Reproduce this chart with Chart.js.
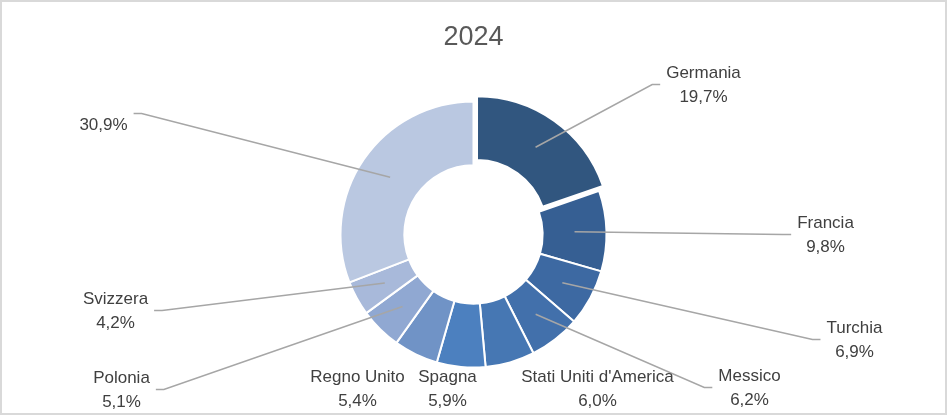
<!DOCTYPE html>
<html lang="it">
<head>
<meta charset="UTF-8">
<title>2024</title>
<script src="https://cdn.jsdelivr.net/npm/chart.js"></script>
<style>
    html, body {
        margin: 0;
        padding: 0;
        background: #ffffff;
    }
    .wrap {
        position: relative;
        width: 947px;
        height: 415px;
    }
</style>
</head>
<body>
<div class="wrap"><canvas id="chart"></canvas></div>
<script>
    const title = "2024";
    const categories = ["Germania", "Francia", "Turchia", "Messico", "Stati Uniti d'America", "Spagna", "Regno Unito", "Polonia", "Svizzera", ""];
    const shares = [19.7, 9.8, 6.9, 6.2, 6.0, 5.9, 5.4, 5.1, 4.2, 30.9];
    const sliceColors = ["#31567f", "#365f93", "#3d69a2", "#4270ab", "#4677b3", "#4c80bf", "#7093c6", "#90a8d2", "#a8b9da", "#bac8e1"];

    // where each label sits (block centre, relative to the doughnut centre) and whether it gets a leader line
    const labelPlace = [
        { dx: 230, dy: -149, line: true },
        { dx: 352, dy: 1, line: true },
        { dx: 381, dy: 106, line: true },
        { dx: 276, dy: 154, line: true },
        { dx: 124, dy: 155, line: false },
        { dx: -26, dy: 155, line: false },
        { dx: -116, dy: 155, line: false },
        { dx: -352, dy: 156, line: true },
        { dx: -358, dy: 77, line: true },
        { dx: -370, dy: -109, line: true, lineDy: -12 }
    ];

    const fmt = v => v.toFixed(1).replace(".", ",") + "%";

    // chart.js draws arcs shifted by offset / 4
    const EXPLODE = 24;

    const labelPlugin = {
        id: "excelLabels",
        afterDatasetsDraw(chart) {
            const ctx = chart.ctx;
            const meta = chart.getDatasetMeta(0);
            const cx = meta.data[0].x, cy = meta.data[0].y;

            ctx.save();
            // title
            ctx.font = "27px 'Liberation Sans', Arial, sans-serif";
            ctx.fillStyle = "#595959";
            ctx.textAlign = "center";
            ctx.textBaseline = "middle";
            ctx.fillText(title, cx, 38);

            ctx.font = "17px 'Liberation Sans', Arial, sans-serif";
            meta.data.forEach((arc, i) => {
                const p = labelPlace[i];
                const lines = categories[i] ? [categories[i], fmt(shares[i])] : [fmt(shares[i])];
                const w = Math.max(...lines.map(t => ctx.measureText(t).width));
                const lx = cx + p.dx, ly = cy + p.dy;

                if (p.line) {
                    const mid = (arc.startAngle + arc.endAngle) / 2;
                    const r = (arc.innerRadius + arc.outerRadius) / 2 + (arc.options.offset || 0) / 4;
                    const sx = arc.x + Math.cos(mid) * r;
                    const sy = arc.y + Math.sin(mid) * r;
                    const yLine = ly + (p.lineDy || -1);
                    const edge = p.dx > 0 ? lx - w / 2 - 6 : lx + w / 2 + 6;
                    const elbow = p.dx > 0 ? edge - 8 : edge + 8;
                    ctx.strokeStyle = "#a6a6a6";
                    ctx.lineWidth = 1.5;
                    ctx.beginPath();
                    ctx.moveTo(sx, sy);
                    ctx.lineTo(elbow, yLine);
                    ctx.lineTo(edge, yLine);
                    ctx.stroke();
                }

                ctx.fillStyle = "#404040";
                ctx.textAlign = "center";
                ctx.textBaseline = "middle";
                const step = 24;
                const top = ly - (lines.length - 1) * step / 2;
                lines.forEach((t, k) => ctx.fillText(t, lx, top + k * step));
            });
            ctx.restore();
        },
        afterDraw(chart) {
            const ctx = chart.ctx;
            ctx.save();
            ctx.strokeStyle = "#d9d9d9";
            ctx.lineWidth = 2;
            ctx.strokeRect(1, 1, chart.width - 2, chart.height - 2);
            ctx.restore();
        }
    };

    new Chart(document.getElementById("chart"), {
        type: "doughnut",
        data: {
            labels: categories,
            datasets: [{
                data: shares,
                backgroundColor: sliceColors,
                borderColor: "#ffffff",
                borderWidth: 2,
                offset: shares.map((v, i) => i === 0 ? EXPLODE : 0)
            }]
        },
        options: {
            responsive: true,
            maintainAspectRatio: false,
            animation: false,
            radius: 133,
            cutout: "52%",
            layout: { padding: { top: 100, bottom: 46, left: 0, right: 0 } },
            plugins: {
                legend: { display: false },
                tooltip: { enabled: false }
            }
        },
        plugins: [labelPlugin]
    });
</script>
</body>
</html>
